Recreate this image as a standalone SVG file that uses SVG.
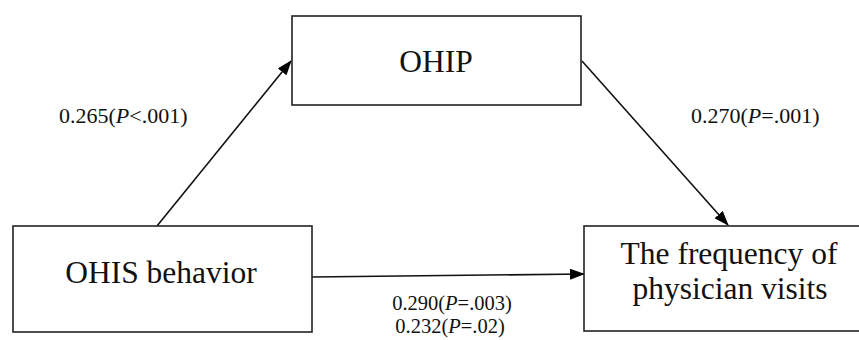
<svg xmlns="http://www.w3.org/2000/svg" width="859" height="340" viewBox="0 0 859 340">
<style>
.box{fill:#fff;stroke:#222;stroke-width:1.6}
.node{font-family:"Liberation Serif","Times New Roman",serif;font-size:31.5px;fill:#111;text-anchor:middle}
.lbl{font-family:"Liberation Serif","Times New Roman",serif;font-size:22px;fill:#111}
.lbl2{font-family:"Liberation Serif","Times New Roman",serif;font-size:20.5px;fill:#111;text-anchor:middle}
.conn{stroke:#111;stroke-width:1.6;fill:none;marker-end:url(#ah)}
</style>
<defs>
<marker id="ah" markerUnits="userSpaceOnUse" markerWidth="15" markerHeight="11" refX="14" refY="5.5" orient="auto">
<path d="M0,0 L15,5.5 L0,11 z" fill="#000"/>
</marker>
</defs>
<rect width="859" height="340" fill="#fff"/>
<g id="connectors">
<line class="conn" x1="157" y1="226" x2="291" y2="61"/>
<line class="conn" x1="582" y1="61" x2="728" y2="225"/>
<line class="conn" x1="312" y1="277" x2="584" y2="274"/>
</g>
<g id="node-ohip">
<rect class="box" x="292" y="16" width="289" height="89"/>
<text class="node" x="436" y="72">OHIP</text>
</g>
<g id="node-ohis">
<rect class="box" x="13" y="226" width="299" height="106"/>
<text class="node" x="161" y="283">OHIS behavior</text>
</g>
<g id="node-freq">
<rect class="box" x="584" y="226" width="290" height="105"/>
<text class="node" x="729" y="264">The frequency of</text>
<text class="node" x="730" y="299">physician visits</text>
</g>
<g id="labels">
<text class="lbl" x="59" y="123">0.265(<tspan font-style="italic">P</tspan>&lt;.001)</text>
<text class="lbl" x="691" y="123">0.270(<tspan font-style="italic">P</tspan>=.001)</text>
<text class="lbl2" x="452" y="310">0.290(<tspan font-style="italic">P</tspan>=.003)</text>
<text class="lbl2" x="450" y="333">0.232(<tspan font-style="italic">P</tspan>=.02)</text>
</g>
</svg>
